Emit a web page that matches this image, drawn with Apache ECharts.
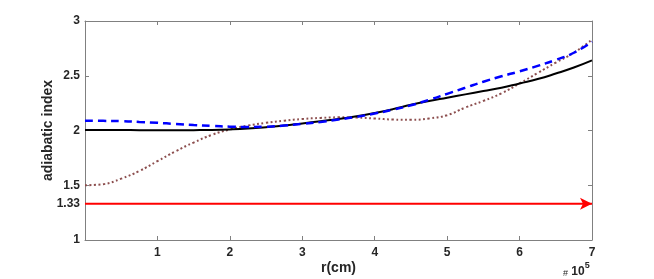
<!DOCTYPE html>
<html>
<head>
<meta charset="utf-8">
<script src="https://cdn.jsdelivr.net/npm/echarts@6/dist/echarts.min.js"></script>
<style>html,body{margin:0;padding:0;background:#fff}#c{width:654px;height:279px}</style>
</head>
<body>
<div id="c"></div>
<script>
const xs = [0,0.25,0.5,0.75,1,1.25,1.5,1.75,2,2.25,2.5,2.75,3,3.25,3.5,3.75,4,4.25,4.5,4.75,5,5.25,5.5,5.75,6,6.25,6.5,6.75,7];
const blackY = [2.005,2.005,2.004,2.003,2.002,2.002,2.003,2.005,2.01,2.018,2.03,2.045,2.065,2.085,2.105,2.13,2.16,2.195,2.235,2.27,2.30,2.33,2.36,2.39,2.43,2.47,2.52,2.575,2.64];
const blueY = [2.09,2.088,2.085,2.078,2.07,2.06,2.05,2.042,2.035,2.032,2.035,2.045,2.06,2.078,2.1,2.125,2.155,2.19,2.23,2.28,2.335,2.39,2.445,2.495,2.54,2.59,2.645,2.71,2.81];
const brownY = [1.5,1.51,1.56,1.63,1.72,1.81,1.89,1.96,2.01,2.045,2.07,2.09,2.105,2.115,2.12,2.118,2.11,2.10,2.098,2.11,2.14,2.21,2.27,2.34,2.43,2.525,2.62,2.71,2.83];
const redX = [0, 7];
const redY = [1.33, 1.33];
const yLabels = [1, 1.33, 1.5, 2, 2.5, 3];
const yTicks = [1, 1.5, 2, 2.5, 3];
const xTicks = [1, 2, 3, 4, 5, 6, 7];

const pair = (a, b) => a.map((v, i) => [v, b[i]]);
const font = '"Liberation Sans", Arial, sans-serif';
const txt = '#262626';
const axCol = '#808080';

const chart = echarts.init(document.getElementById('c'));
chart.setOption({
  animation: false,
  grid: { left: 85, right: 62, top: 21, bottom: 39, show: false, containLabel: false, outerBoundsMode: 'none' },
  xAxis: [{
    type: 'value', min: 0, max: 7, interval: 1, position: 'bottom',
    name: 'r(cm)', nameLocation: 'middle', nameGap: 21, nameMoveOverlap: false,
    nameTextStyle: { fontFamily: font, fontWeight: 'bold', fontSize: 14, color: txt },
    axisLine: { show: true, onZero: false, lineStyle: { color: axCol, width: 1 } },
    axisTick: { show: true, inside: true, length: 4, lineStyle: { color: axCol }, customValues: xTicks },
    axisLabel: { fontFamily: font, fontWeight: 'bold', fontSize: 12, color: txt, margin: 7, customValues: xTicks },
    splitLine: { show: false }
  }, {
    type: 'value', min: 0, max: 7, interval: 1, position: 'top',
    axisLine: { show: true, onZero: false, lineStyle: { color: axCol, width: 1 } },
    axisTick: { show: true, inside: true, length: 4, lineStyle: { color: axCol }, customValues: xTicks },
    axisLabel: { show: false }, splitLine: { show: false }
  }],
  yAxis: [{
    type: 'value', min: 1, max: 3, position: 'left',
    name: 'adiabatic index', nameLocation: 'middle', nameGap: 30, nameRotate: 90, nameMoveOverlap: false,
    nameTextStyle: { fontFamily: font, fontWeight: 'bold', fontSize: 14, color: txt },
    axisLine: { show: true, onZero: false, lineStyle: { color: axCol, width: 1 } },
    axisTick: { show: true, inside: true, length: 4, lineStyle: { color: axCol }, customValues: yTicks },
    axisLabel: { fontFamily: font, fontWeight: 'bold', fontSize: 12, color: txt, margin: 5, customValues: yLabels },
    splitLine: { show: false }
  }, {
    type: 'value', min: 1, max: 3, position: 'right',
    axisLine: { show: true, onZero: false, lineStyle: { color: axCol, width: 1 } },
    axisTick: { show: true, inside: true, length: 4, lineStyle: { color: axCol }, customValues: yTicks },
    axisLabel: { show: false }, splitLine: { show: false }
  }],
  series: [{
    type: 'line', data: pair(xs, brownY), smooth: true, showSymbol: false,
    lineStyle: { color: '#8c4e4e', width: 2, type: [2, 2.5] }
  }, {
    type: 'line', data: pair(xs, blackY), smooth: true, showSymbol: false,
    lineStyle: { color: '#000', width: 2 }
  }, {
    type: 'line', data: pair(xs, blueY), smooth: true, showSymbol: false,
    lineStyle: { color: '#0000ff', width: 2.5, type: [8, 5] }
  }, {
    type: 'line', clip: false,
    data: redX.map((x, i) => ({
      value: [x, redY[i]],
      symbol: i === redX.length - 1 ? 'arrow' : 'none',
      symbolRotate: -90, symbolSize: [9, 12], symbolOffset: [0, 0]
    })),
    showSymbol: true, showAllSymbol: true,
    itemStyle: { color: '#ff0000' },
    lineStyle: { color: '#ff0000', width: 2 }
  }],
  graphic: [{
    type: 'text', left: 563, top: 261,
    style: {
      text: '{h|#} {b|10}{s|5}',
      rich: {
        h: { fontFamily: font, fontSize: 9, fill: txt, verticalAlign: 'bottom', padding: [6, 0, 0, 0] },
        b: { fontFamily: font, fontSize: 12, fontWeight: 'bold', fill: txt, padding: [5, 0, 0, 0] },
        s: { fontFamily: font, fontSize: 9, fontWeight: 'bold', fill: txt, verticalAlign: 'top', padding: [0, 0, 6, 0] }
      }
    }
  }]
});
</script>
</body>
</html>
